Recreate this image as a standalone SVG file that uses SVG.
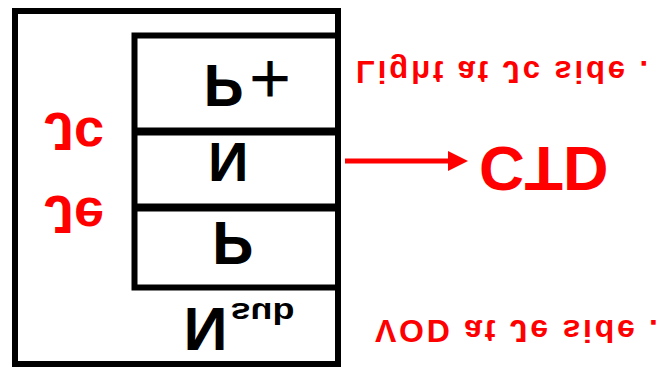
<svg xmlns="http://www.w3.org/2000/svg" width="666" height="368" viewBox="0 0 666 368">
<defs>
<style>
.box{fill:none;stroke:#000;}
.sep{stroke:#000;stroke-width:8;}
.blk{font-family:"Liberation Sans",Arial,sans-serif;font-weight:bold;fill:#000;}
.red{font-family:"Liberation Sans",Arial,sans-serif;font-weight:bold;fill:#FF0000;}
.plus{font-weight:normal;}
</style>
<marker id="ah" markerWidth="4" markerHeight="4" refX="0" refY="2" orient="auto" markerUnits="strokeWidth">
<path d="M0,0 L4,2 L0,4 Z" fill="#FF0000"/>
</marker>
</defs>
<rect width="666" height="368" fill="#fff"/>
<g id="device">
<rect class="box" x="15" y="11" width="323" height="353" stroke-width="6"/>
<rect class="box" x="134.5" y="35.5" width="203.5" height="252" stroke-width="6"/>
</g>
<g id="layer-pplus">
<g transform="translate(203.5,65) scale(1,-1)">
<text class="blk" x="0" y="0" font-size="60">P<tspan class="plus" x="45.5" dy="10" font-size="72">+</tspan></text>
</g>
</g>
<g id="layer-n">
<line class="sep" x1="134.5" y1="131.5" x2="338" y2="131.5"/>
<g transform="translate(208,143) scale(1,-1)">
<text class="blk" x="0" y="0" font-size="56">N</text>
</g>
</g>
<g id="layer-p">
<line class="sep" x1="134.5" y1="207.5" x2="338" y2="207.5"/>
<g transform="translate(212,222) scale(1,-1)">
<text class="blk" x="0" y="0" font-size="62">P</text>
</g>
</g>
<g id="layer-nsub">
<g transform="translate(183.5,308) scale(1,-1)">
<text class="blk" x="0" y="0" font-size="61">N<tspan x="47" dy="5" font-size="30" textLength="64" lengthAdjust="spacingAndGlyphs">sub</tspan></text>
</g>
</g>
<g id="label-jc">
<g transform="translate(44,113) scale(1,-1)">
<text class="red" x="0" y="0" font-size="54">J<tspan dy="-5">c</tspan></text>
</g>
</g>
<g id="label-je">
<g transform="translate(44,196) scale(1,-1)">
<text class="red" x="0" y="0" font-size="54">J<tspan dy="-2">e</tspan></text>
</g>
</g>
<g id="label-light">
<g transform="translate(356,61) scale(1,-1)">
<text class="red" x="0" y="0" font-size="31" textLength="292" lengthAdjust="spacing">Light at Jc side .</text>
</g>
</g>
<g id="label-vod">
<g transform="translate(375,320) scale(1,-1)">
<text class="red" x="0" y="0" font-size="32" textLength="283" lengthAdjust="spacing">VOD at Je side .</text>
</g>
</g>
<g id="ctd">
<g transform="translate(479,147) scale(1,-1)">
<text class="red" x="0" y="0" font-size="63">CTD</text>
</g>
</g>
<g id="connectors">
<line x1="345" y1="161" x2="448" y2="161" stroke="#FF0000" stroke-width="5" marker-end="url(#ah)"/>
</g>
</svg>
